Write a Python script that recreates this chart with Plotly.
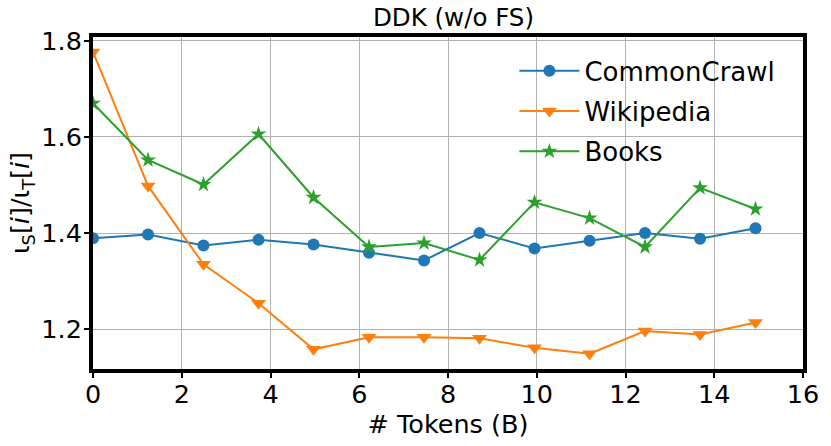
import plotly.graph_objects as go

tokens_b = [0, 1.24, 2.49, 3.73, 4.97, 6.22, 7.46, 8.71, 9.95, 11.19, 12.44, 13.68, 14.93]
commoncrawl = [1.389, 1.397, 1.374, 1.386, 1.376, 1.359, 1.343, 1.400, 1.368, 1.384, 1.400, 1.388, 1.410]
wikipedia = [1.777, 1.498, 1.335, 1.254, 1.158, 1.183, 1.183, 1.181, 1.161, 1.149, 1.196, 1.189, 1.214]
books = [1.670, 1.552, 1.501, 1.606, 1.474, 1.371, 1.379, 1.344, 1.464, 1.431, 1.371, 1.494, 1.450]

x_ticks = [0, 2, 4, 6, 8, 10, 12, 14, 16]
y_ticks = [1.2, 1.4, 1.6, 1.8]

series = [
    ("CommonCrawl", commoncrawl, "#1f77b4", "circle", 12),
    ("Wikipedia", wikipedia, "#ff7f0e", "triangle-down", 13),
    ("Books", books, "#2ca02c", "star", 12),
]

fig = go.Figure()
for name, vals, color, sym, size in series:
    fig.add_trace(go.Scatter(
        x=tokens_b, y=vals, name=name, mode="lines+markers",
        line=dict(color=color, width=2),
        marker=dict(symbol=sym, size=size, color=color, line=dict(width=0)),
        legendgroup=name,
    ))

font = "DejaVu Sans"
fig.update_layout(
    width=831, height=446,
    margin=dict(l=93, r=17, t=37, b=77),
    paper_bgcolor="white", plot_bgcolor="white",
    font=dict(family=font, size=25, color="black"),
    title=dict(text="DDK (w/o FS)", x=0.5457, xanchor="center", y=0.962, yanchor="middle",
               font=dict(family=font, size=24.5, color="black")),
    showlegend=True,
    legend=dict(x=0.5935, y=0.969, xanchor="left", yanchor="top",
                bgcolor="rgba(0,0,0,0)", borderwidth=0,
                font=dict(family=font, size=26, color="black"),
                traceorder="grouped", tracegroupgap=3.5, itemwidth=60),
)
fig.update_xaxes(
    range=[0, 16], tickvals=x_ticks, ticktext=[str(v) for v in x_ticks],
    showgrid=True, gridcolor="#b0b0b0", gridwidth=1,
    showline=True, linecolor="black", linewidth=4, mirror=True,
    ticks="outside", ticklen=5, tickwidth=1.5, tickcolor="black",
    ticklabelstandoff=-6,
    tickfont=dict(family=font, size=25.5, color="black"),
    title=dict(text="# Tokens (B)", font=dict(family=font, size=25.5, color="black"), standoff=2),
    zeroline=False,
)
fig.update_yaxes(
    range=[1.117, 1.808], tickvals=y_ticks, ticktext=[f"{v:.1f}" for v in y_ticks],
    showgrid=True, gridcolor="#b0b0b0", gridwidth=1,
    showline=True, linecolor="black", linewidth=4, mirror=True,
    ticks="outside", ticklen=5, tickwidth=1.5, tickcolor="black",
    ticklabelstandoff=-3,
    tickfont=dict(family=font, size=25.5, color="black"),
    title=dict(text="ι<sub>S</sub>[<i>i</i>]/ι<sub>T</sub>[<i>i</i>]",
               font=dict(family=font, size=25.5, color="black"), standoff=5),
    zeroline=False,
)

fig.write_html("out.html", config={"displayModeBar": False},
               post_script="document.body.style.margin='0px';")
